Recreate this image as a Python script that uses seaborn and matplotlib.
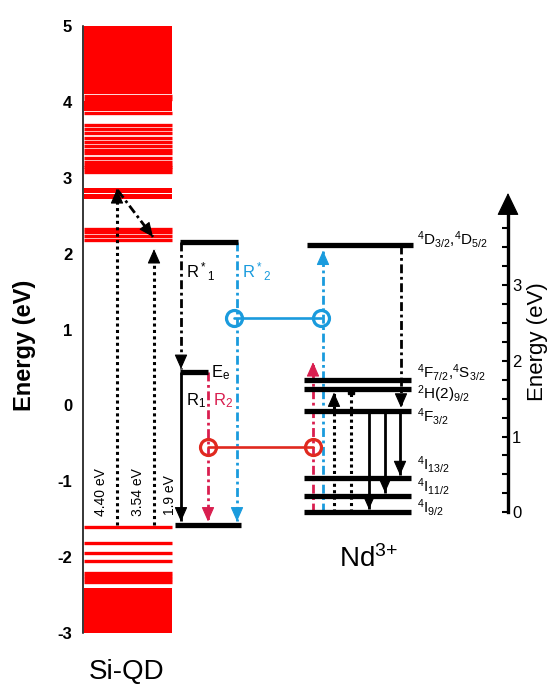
import matplotlib
matplotlib.use("Agg")
import matplotlib.pyplot as plt
from matplotlib.ticker import FixedLocator
import seaborn as sns

# ---------------- data (energies in eV) ----------------
# Si-QD conduction-band states (left axis)
cb_block_lo = [4.11, 3.88, 2.80, 2.72]
cb_block_hi = [5.00, 4.01, 2.86, 2.78]
cb_lines = [4.08, 4.04, 3.85, 3.69, 3.64, 3.59, 3.53, 3.47, 3.42, 3.37,
            3.32, 3.26, 3.21, 3.17, 3.14, 3.11, 3.08, 2.33, 2.28, 2.23, 2.18]
# Si-QD valence-band states (left axis)
vb_block_lo = [-3.00]
vb_block_hi = [-2.41]
vb_lines = [-1.60, -1.82, -1.94, -2.05, -2.21, -2.25, -2.29, -2.33]

# Si-QD exciton scheme (left axis)
si_R_star = 2.15
si_Ee = 0.44
si_ground = -1.57
si_abs_start = -1.58
si_abs_tips = [2.87, 2.08]
si_abs_labels = ["4.40 eV", "3.54 eV"]
si_relax_from, si_relax_to = 2.83, 2.22
gap_label = "1.9 eV"

# Nd3+ levels (right axis, eV above 4I9/2)
nd_names = [r"$^4$D$_{3/2}$,$^4$D$_{5/2}$", r"$^4$F$_{7/2}$,$^4$S$_{3/2}$",
            r"$^2$H(2)$_{9/2}$", r"$^4$F$_{3/2}$", r"$^4$I$_{13/2}$",
            r"$^4$I$_{11/2}$", r"$^4$I$_{9/2}$"]
nd_E = [3.52, 1.74, 1.63, 1.34, 0.45, 0.22, 0.00]
nd_offset = -1.41          # left-axis energy of the Nd ground state
nd_red_tip = 1.98
nd_blue_tip = 3.45
nd_dotted_tips = [1.58, 1.63]
nd_emission_targets = [0.00, 0.22, 0.45]   # from 4F3/2

# energy-transfer links (left axis)
transfer_red_E = -0.55
transfer_blue_E = 1.15

left_ticks = [-3, -2, -1, 0, 1, 2, 3, 4, 5]
right_ticks = [0, 1, 2, 3]
right_minor = [0.25, 0.5, 0.75, 1.25, 1.5, 1.75, 2.25, 2.5, 2.75, 3.25, 3.5, 3.75]
right_axis_top = 3.92
right_arrow_tip = 4.21

# ---------------- layout / style ----------------
X_BAND = (84, 172)
X_ABS = [117, 154]
X_RELAX = (118, 153)
X_R1, X_R2, X_B2 = 181, 208, 237
X_GROUND = (175, 241)
X_ND = (304, 411)
X_ND_TOP = (307, 413)
X_ND_RED, X_ND_BLUE = 313, 323
X_DOT = [334, 351]
X_EM = [369, 385, 400]
X_DD = 401
X_CIRC_RED = (208, 313)
X_CIRC_BLUE = (234, 321)
X_AXIS2 = 508
nd_label_dy = [0.075, 0.10, -0.07, -0.08, 0.175, 0.12, 0.07]

RED_BAND = "#FF0000"
CRIMSON = "#D91E4F"
RED_CIRC = "#E0291F"
BLUE = "#1A9BDD"
DASHDOT = (0, (3.2, 1.3, 1.0, 1.3))
DOTTED = (0, (1.0, 1.1))

sns.set_style("white")
plt.rcParams["font.family"] = ["Liberation Sans", "DejaVu Sans"]
plt.rcParams["mathtext.default"] = "regular"
plt.rcParams["axes.unicode_minus"] = False
for k in ["text.color", "axes.labelcolor", "xtick.color", "ytick.color", "axes.edgecolor"]:
    plt.rcParams[k] = "black"

fig = plt.figure(figsize=(5.49, 6.85), dpi=100)
ax = fig.add_axes([83 / 549, 0, 466 / 549, 1])
ax.set_xlim(83, 549)
ax.set_ylim(-3.685, 5.343)
ax.patch.set_alpha(0)
sns.despine(ax=ax, top=True, right=True, bottom=True, left=False)
ax.spines["left"].set_bounds(-3, 5)
ax.spines["left"].set_linewidth(1.1)
ax.set_xticks([])
ax.set_yticks(left_ticks)
ax.set_yticklabels([str(v) for v in left_ticks], fontweight="bold")
ax.tick_params(axis="y", direction="out", length=5.8, width=1.1, pad=2, labelsize=12)


def head(x_tip, y_tip, x_from, y_from, color, L=0.9, W=0.4):
    ax.annotate("", xy=(x_tip, y_tip), xytext=(x_from, y_from),
                arrowprops=dict(arrowstyle=f"-|>,head_length={L},head_width={W}",
                                color=color, lw=0.8, shrinkA=0, shrinkB=0,
                                mutation_scale=10),
                annotation_clip=False, zorder=6)


def varrow(x, y0, y1, color, ls, lw=2.0, with_head=True):
    ax.plot([x, x], [y0, y1], color=color, lw=lw, linestyle=ls,
            dash_capstyle="butt", solid_capstyle="butt", zorder=4)
    if with_head:
        d = 0.06 if y1 > y0 else -0.06
        head(x, y1, x, y1 - d, color)


# ---- Si-QD bands ----
for lo, hi in zip(cb_block_lo + vb_block_lo, cb_block_hi + vb_block_hi):
    ax.fill_between(list(X_BAND), [lo, lo], [hi, hi], color=RED_BAND, lw=0, zorder=2)
ax.hlines(cb_lines + vb_lines, X_BAND[0], X_BAND[1], colors=RED_BAND, lw=2.4, zorder=2)

# ---- Si-QD absorption / relaxation ----
for x, tip, lab in zip(X_ABS, si_abs_tips, si_abs_labels):
    varrow(x, si_abs_start, tip - 0.02, "black", DOTTED, lw=2.2)
    ax.text(x - 16, -1.14, lab, rotation=90, ha="center", va="center", fontsize=10)
ax.plot(list(X_RELAX), [si_relax_from, si_relax_to], color="black", lw=2.0,
        linestyle=DASHDOT, dash_capstyle="butt", zorder=4)
head(X_RELAX[1], si_relax_to, X_RELAX[1] - 0.1 * (X_RELAX[1] - X_RELAX[0]),
     si_relax_to - 0.1 * (si_relax_to - si_relax_from), "black")

# ---- Si exciton levels ----
lvl_kw = dict(colors="black", lw=3.8, zorder=5)
ax.hlines(si_R_star, X_R1 - 1, X_B2 + 1, **lvl_kw)
ax.hlines(si_Ee, X_R1 - 1, X_R2, **lvl_kw)
ax.hlines(si_ground, X_GROUND[0], X_GROUND[1], **lvl_kw)

varrow(X_R1, si_R_star, si_Ee + 0.04, "black", DASHDOT)
varrow(X_R1, si_Ee, si_ground + 0.04, "black", "-")
varrow(X_R2, si_Ee, si_ground + 0.04, CRIMSON, DASHDOT)
varrow(X_B2, si_R_star, si_ground + 0.04, BLUE, DASHDOT)
ax.text(170, -1.18, gap_label, rotation=90, ha="center", va="center", fontsize=10)

ax.text(186, 1.76, r"R$^*$$_1$", ha="left", va="center", fontsize=12)
ax.text(242, 1.76, r"R$^*$$_2$", ha="left", va="center", fontsize=12, color=BLUE)
ax.text(211, 0.37, r"E$_e$", ha="left", va="baseline", fontsize=12)
ax.text(186, -0.0, r"R$_1$", ha="left", va="baseline", fontsize=12)
ax.text(213, -0.0, r"R$_2$", ha="left", va="baseline", fontsize=12, color=CRIMSON)

# ---- Nd3+ levels ----
nd_left = [e + nd_offset for e in nd_E]
for i, (e, name, dy) in enumerate(zip(nd_left, nd_names, nd_label_dy)):
    xr = X_ND_TOP if i == 0 else X_ND
    ax.hlines(e, xr[0], xr[1], **lvl_kw)
    ax.text(417, e + dy, name, ha="left", va="center", fontsize=11)

g = nd_left[-1]
varrow(X_ND_RED, g, nd_red_tip + nd_offset, CRIMSON, DASHDOT)
varrow(X_ND_BLUE, g, nd_blue_tip + nd_offset, BLUE, DASHDOT)
varrow(X_DOT[0], g, nd_dotted_tips[0] + nd_offset, "black", DOTTED, lw=2.2)
varrow(X_DOT[1], g, nd_dotted_tips[1] + nd_offset, "black", DOTTED, lw=2.2, with_head=False)
ax.plot([X_DOT[1]], [nd_dotted_tips[1] + nd_offset - 0.03], marker="s", ms=4.5,
        color="black", zorder=6)
varrow(X_DD, nd_left[0], nd_left[3] + 0.04, "black", DASHDOT)
for x, tgt in zip(X_EM, nd_emission_targets):
    varrow(x, nd_left[3], tgt + nd_offset + 0.04, "black", "-")

# ---- energy transfer links ----
ax.plot(list(X_CIRC_RED), [transfer_red_E] * 2, color=RED_CIRC, lw=1.9, zorder=6)
ax.plot(list(X_CIRC_RED), [transfer_red_E] * 2, "o", ms=11.5, mfc="none",
        mec=RED_CIRC, mew=2.3, zorder=7)
ax.plot(list(X_CIRC_BLUE), [transfer_blue_E] * 2, color=BLUE, lw=1.9, zorder=6)
ax.plot(list(X_CIRC_BLUE), [transfer_blue_E] * 2, "o", ms=11.5, mfc="none",
        mec=BLUE, mew=2.3, zorder=7)

# ---- right energy axis (Nd scale) ----
sec = ax.secondary_yaxis((X_AXIS2 - 83) / 466,
                         functions=(lambda y: y - nd_offset, lambda e: e + nd_offset))
sec.set_yticks(right_ticks)
sec.set_yticklabels([str(v) for v in right_ticks])
sec.yaxis.set_minor_locator(FixedLocator(right_minor))
sec.tick_params(which="both", direction="in", length=4.3, width=1.5, pad=3, labelsize=12)
sec.spines["right"].set_bounds(0, right_axis_top)
sec.spines["right"].set_linewidth(2.4)
head(X_AXIS2, right_arrow_tip + nd_offset, X_AXIS2, right_arrow_tip + nd_offset - 0.12,
     "black", L=1.45, W=0.7)

# ---- titles ----
ax.text(127, -3.61, "Si-QD", ha="center", va="baseline", fontsize=20)
ax.text(339, -2.13, r"Nd$^{3{+}}$", ha="left", va="baseline", fontsize=20)
fig.text(25 / 549, 1 - 345 / 685, "Energy (eV)", rotation=90, ha="center",
         va="center", fontsize=17, fontweight="bold")
fig.text(538 / 549, 1 - 342 / 685, "Energy (eV)", rotation=90, ha="center",
         va="center", fontsize=16)

fig.savefig("out.png", dpi=100)
